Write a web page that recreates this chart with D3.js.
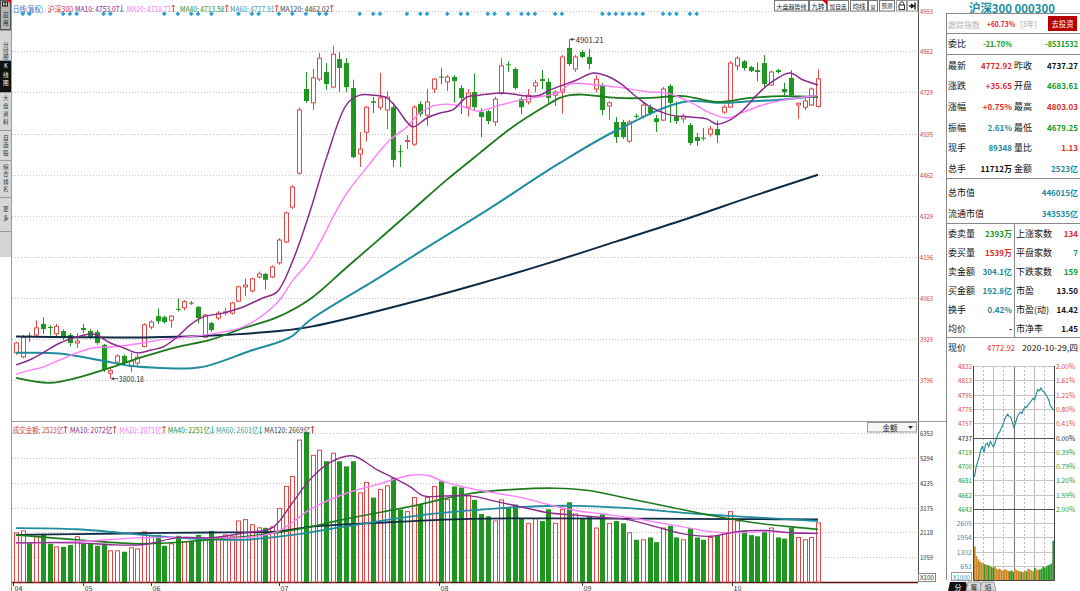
<!DOCTYPE html>
<html><head><meta charset="utf-8"><title>沪深300 日线</title>
<script src="https://cdn.jsdelivr.net/npm/d3@7/dist/d3.min.js"></script>
<style>
html,body{margin:0;padding:0;background:#fff;}
svg{display:block;font-family:"Noto Sans CJK SC","Liberation Sans",sans-serif;}
</style></head><body>
<svg id="c" width="1080" height="591" viewBox="0 0 1080 591"></svg>
<script>
// ================= DATA =================
const kIndex = d3.range(1, 121);
const kOpen = [3884,3871,3940,3942,3978,3968,3946,3955,3942,3916, 3965,3955,3952,3910,3818,3854,3874,3840,3851,3905,
 3968,4003,4000,3990,4027,4030,4047,4033,3935,3981, 3997,4014,4013,4052,4098,4085,4130,4140,4130,4176,
 4244,4357,4467,4740,4695,4772,4795,4746,4837,4824, 4743,4529,4600,4700,4681,4672,4681,4538,4570,4561,
 4691,4655,4740,4780,4763,4779,4743,4681,4730,4665, 4668,4633,4727,4820,4805,4707,4698,4750,4772,4763,
 4720,4730,4873,4805,4860,4844,4740,4753,4685,4633, 4633,4571,4653,4652,4681,4645,4639,4750,4652,4643,
 4623,4584,4582,4594,4610,4665,4681,4815,4830,4811, 4801,4824,4753,4801,4740,4776,4688,4681,4688,4683.61];
const kHigh = [3920,3942,3950,3990,4000,3974,3978,3960,3948,3948, 3978,3961,3958,3913,3835,3880,3878,3885,3880,3980,
 3990,4028,4005,4006,4060,4055,4052,4036,4010,3985, 4020,4030,4050,4102,4125,4128,4148,4144,4168,4256,
 4342,4428,4680,4795,4805,4857,4824,4880,4860,4840, 4770,4600,4685,4714,4792,4733,4695,4558,4590,4688,
 4700,4740,4776,4808,4785,4785,4753,4740,4790,4678, 4672,4715,4840,4830,4810,4715,4740,4770,4802,4775,
 4737,4850,4901.21,4850,4866,4870,4785,4760,4701,4649, 4640,4640,4660,4695,4690,4656,4746,4755,4700,4660,
 4630,4597,4613,4620,4637,4688,4830,4846,4834,4815, 4826,4850,4800,4805,4760,4801,4694,4714,4745,4803.03];
const kLow = [3878,3866,3920,3932,3945,3940,3935,3925,3905,3900, 3948,3930,3910,3822,3800.18,3845,3845,3822,3838,3902,
 3960,3978,3978,3965,4018,4022,4040,3980,3932,3952, 3990,4005,4008,4048,4068,4080,4125,4090,4126,4170,
 4240,4350,4462,4695,4672,4765,4737,4742,4730,4730, 4515,4487,4570,4662,4672,4610,4487,4487,4545,4555,
 4650,4620,4727,4755,4733,4695,4659,4650,4672,4584, 4626,4620,4720,4795,4738,4658,4690,4730,4740,4690,
 4685,4660,4815,4795,4840,4805,4730,4655,4640,4565, 4578,4565,4645,4645,4655,4600,4636,4630,4627,4630,
 4558,4555,4573,4585,4565,4659,4678,4800,4800,4795, 4765,4746,4750,4790,4720,4714,4643,4672,4685,4679.25];
const kClose = [3916,3935,3935,3965,3961,3967,3970,3935,3916,3922, 3958,3935,3916,3829,3826,3874,3851,3858,3870,3975,
 3984,3987,3984,4003,4024,4050,4044,3997,4007,3958, 4013,4017,4046,4098,4104,4124,4140,4121,4163,4250,
 4338,4422,4672,4701,4776,4840,4756,4853,4808,4746, 4519,4545,4681,4695,4711,4714,4510,4535,4573,4681,
 4659,4698,4772,4778,4779,4766,4711,4727,4681,4649, 4636,4707,4815,4817,4743,4681,4720,4760,4766,4711,
 4730,4844,4821,4844,4844,4821,4772,4672,4695,4584, 4584,4633,4651,4688,4662,4633,4740,4695,4636,4652,
 4565,4571,4580,4610,4590,4681,4824,4840,4808,4798, 4795,4756,4795,4795,4730,4720,4694,4701,4740,4772.92];
// turnover (亿)
const kAmount = [2100,2180,1670,1930,2010,1630,1500,1500,1580,1930, 1630,1630,1545,1630,1330,1330,1290,1460,1410,2140,
 1970,2010,1545,1630,1970,1715,1760,2010,1890,2180, 1890,2010,1930,2600,2660,2440,2310,2310,2350,3130,
 4075,4500,6050,6390,5400,5620,5150,5490,5150,4930, 5150,3800,4250,3600,3950,4100,4440,3090,3000,3600,
 3300,3600,4075,4290,3520,4075,4030,3700,3500,2900, 2800,2600,3500,3200,3300,2700,2500,2700,2600,3100,
 2500,3100,3400,2900,2700,2800,2300,2900,2500,2600, 2500,2100,1800,1800,1900,1700,2300,2400,1900,1800,
 2300,1900,1800,1900,2000,2100,3000,2600,2200,2000, 1950,2200,2300,1900,1850,2300,1900,1800,1900,2523];

// moving averages: [candle index, value]
const ma10 = [[1,3845],[3,3861],[5,3884],[7.5,3916],[10,3935],[12,3945],[13,3942],[15,3916],[17,3900],[19,3884],[21,3893],[22.8,3903],[24.9,3935],[26.8,3974],[28.7,4000],[31.7,4013],[34.7,4033],[37.6,4062],[39.7,4081],[42.1,4185],[44.6,4341],[47.1,4519],[50.1,4691],[52,4720],[54,4720],[56,4711],[57.5,4678],[59,4633],[59.9,4617],[62,4646],[63.9,4662],[65.8,4672],[67.9,4714],[69.8,4720],[72.8,4727],[74.7,4724],[76.8,4717],[78.7,4720],[80.2,4737],[82.2,4753],[84.2,4769],[86.6,4792],[88.7,4782],[90.6,4759],[93.1,4714],[95.1,4682],[98,4656],[101,4649],[103.5,4643],[105,4626],[106.9,4639],[108.9,4672],[110.9,4720],[112.9,4759],[115.8,4792],[117.8,4769],[120,4753]];
const ma20 = [[1,3815],[2.6,3825],[5,3838],[7.5,3861],[10,3884],[12.4,3900],[15,3903],[19.8,3916],[22.4,3926],[24.9,3932],[29.8,3945],[34.7,3968],[39.7,4046],[42.1,4120],[44.6,4185],[48.6,4347],[50.1,4403],[53.1,4487],[56.5,4575],[59,4617],[60.9,4662],[62.9,4685],[64.9,4691],[66.9,4685],[69.8,4668],[71.8,4681],[74.7,4698],[77.7,4711],[81.7,4730],[83.2,4756],[87.2,4753],[90.2,4746],[95.1,4730],[97.6,4727],[101,4698],[104,4662],[106.5,4646],[108.9,4665],[111.8,4688],[114.8,4704],[120,4719]];
const ma40 = [[1,3803],[6,3787],[10,3803],[15,3836],[19.8,3871],[24.9,3903],[29.8,3926],[34.7,3964],[39.7,3999],[44.6,4058],[50,4160],[55,4255],[59.8,4347],[64.9,4445],[69.8,4532],[74.7,4617],[79.8,4688],[81.7,4711],[83.2,4720],[85.1,4722],[90.2,4711],[95.1,4711],[100,4717],[105,4698],[109.9,4711],[114.8,4717],[120,4714]];
const ma60 = [[1,3884],[7.5,3882],[13.5,3860],[17.9,3842],[22.4,3835],[28.3,3837],[35.7,3890],[41.7,3935],[44.6,3990],[55,4130],[63,4240],[70.9,4347],[81.7,4500],[90.2,4607],[100,4698],[105.9,4695],[110,4700],[115,4706],[120,4718]];
const ma120 = [[1,3937],[10,3935],[20,3934],[30,3940],[40,3955],[45,3970],[60,4050],[70,4110],[80,4175],[90,4245],[100,4315],[110,4390],[120,4462]];

const vma10 = [[1,1670],[10,1670],[15,1590],[20,1600],[25,1890],[30,1890],[35,2100],[39,2310],[42,3370],[44.6,4360],[47.5,5080],[50.9,5380],[54.6,4780],[57,4440],[59.5,4060],[61.5,3670],[64.4,3670],[68.4,3670],[72,3450],[76,3200],[80,2950],[84,2850],[88,2750],[92,2650],[96,2350],[100,2050],[104,1950],[108,2150],[112,2200],[116,2100],[120,2072]];
const vma20 = [[1,1670],[10,1720],[19.8,1890],[29.8,1890],[34.7,1890],[39.7,2140],[42.1,2560],[44.6,3090],[49.5,3730],[54.6,4160],[59.5,4550],[62,4550],[64.4,4290],[68.4,3990],[72,3800],[76,3600],[80,3300],[84,3050],[88,2900],[92,2750],[96,2550],[100,2350],[104,2150],[108,2100],[112,2150],[116,2100],[120,2071]];
const vma40 = [[1,2010],[10,1800],[19.8,1630],[29.8,1800],[39.7,2100],[44.6,2350],[49.5,2660],[59.5,3220],[68.4,3770],[75,3950],[81,4000],[86,3900],[92,3550],[98,3200],[104,2850],[110,2550],[116,2350],[120,2251]];
const vma60 = [[1,2300],[10,2250],[19.8,2010],[24.8,1890],[34.7,1800],[42.1,2010],[49.5,2350],[59.5,2790],[68.4,3050],[76,3200],[84,3250],[92,3150],[100,2950],[108,2800],[114,2700],[120,2601]];
const vma120 = [[1,2010],[10,2040],[20,2080],[30,2110],[39.7,2150],[44.6,2350],[54.6,2520],[68.4,2690],[80,2710],[95,2700],[110,2680],[120,2669]];

const priceTicks = [4993,4862,4729,4595,4462,4329,4196,4063,3929,3796];
const volTicks = [6353,5294,4235,3175,2118,1059];
const monthLabels = ['04','05','06','07','08','09','10'];
const monthIdx = [0.6,11,21,40,63.8,85,107.3];
const markerIdx = [2,3,8,9,10,14,15,23,25,27,28,30,34,36,37,40,42,44,46,47,52,54,55,59,61,62,65,67,68,71,72,74,76,77,78,81,82,88,89,90,91,92,93,94,97,98,99,101,102];

// intraday (every ~5 min)
const intraPrice = [4685,4698,4705,4712,4721,4725,4718,4728,4730,4725, 4732,4728,4725,4730,4737,4742,4745,4750,4754,4761,
 4765,4768,4765,4764,4757,4750,4757,4764,4768,4771, 4769,4774,4778,4777,4781,4783,4786,4789,4787,4794,
 4801,4799,4803,4799,4797,4795,4791,4787,4779,4777, 4772.92];
const intraVol = [1540,1100,950,850,800,760,720,700,680,650, 600,560,620,520,480,520,450,430,500,460,
 420,400,440,380,520,460,420,400,380,360, 420,400,520,480,440,400,560,500,460,480, 520,600,560,620,680,700,760,1800];
const intraPriceLabels = ['4832','4813','4795','4775','4757','4737','4719','4700','4681','4662','4643'];
const intraPctLabels = ['2.00%','1.61%','1.21%','0.80%','0.41%','0.00%','0.39%','0.79%','1.20%','1.59%','2.00%'];
const intraVolLabels = ['2605','1954','1302','651'];
const intraVolTicks = [2605,1954,1302,651];

// quote panel
const quoteRows = [
 ['最新','4772.92','r','昨收','4737.27','k'],
 ['涨跌','+35.65','r','开盘','4683.61','g'],
 ['涨幅','+0.75%','r','最高','4803.03','r'],
 ['振幅','2.61%','t','最低','4679.25','g'],
 ['现手','89348','t','量比','1.13','r'],
 ['总手','11712万','k','金额','2523亿','t']];
const capRows = [['总市值','446015亿'],['流通市值','343535亿']];
const tradeRows = [
 ['委卖量','2393万','g','上涨家数','134','r'],
 ['委买量','1539万','r','平盘家数','7','t'],
 ['卖金额','304.1亿','t','下跌家数','159','g'],
 ['买金额','192.8亿','t','市盈','13.50','k'],
 ['换手','0.42%','t','市盈(动)','14.42','k'],
 ['均价','-','k','市净率','1.45','k']];

// ================= DRAW =================
const svg = d3.select('#c');
const RED='#e04848', GRN='#1f961f', PUR='#8b2b8b', PINK='#ff7cff', DGRN='#1b7a1b', MTEAL='#1f8d9f', NAVY='#0e2a44';
const COL = {r:'#e02a2a', g:'#17981a', t:'#1b8ca2', k:'#111'};

function T(p, x, y, s, o = {}) {
  const t = p.append('text').attr('x', x).attr('y', y).text(s)
    .attr('font-size', o.fs || 8).attr('fill', o.c || '#222')
    .attr('text-anchor', o.a || 'start').attr('dominant-baseline', 'central');
  if (o.w) t.attr('font-weight', o.w);
  if (o.len) t.attr('textLength', o.len).attr('lengthAdjust', 'spacingAndGlyphs');
  return t;
}
function L(p, x1, y1, x2, y2, c, w = 1, dash) {
  const l = p.append('line').attr('x1', x1).attr('y1', y1).attr('x2', x2).attr('y2', y2)
    .attr('stroke', c).attr('stroke-width', w);
  if (dash) l.attr('stroke-dasharray', dash);
  return l;
}
function arrow(p, x, y, up, c) {
  const d = up ? `M${x+1.6},${y-3.5} L${x+1.6},${y+3.5} M${x},${y-1.8} L${x+1.6},${y-3.5} L${x+3.2},${y-1.8}`
               : `M${x+1.6},${y-3.5} L${x+1.6},${y+3.5} M${x},${y+1.8} L${x+1.6},${y+3.5} L${x+3.2},${y+1.8}`;
  p.append('path').attr('d', d).attr('fill','none').attr('stroke', c).attr('stroke-width', 0.9);
}

const x = d3.scaleLinear().domain([1, 120]).range([16, 818]);
const yP = d3.scaleLinear().domain([3796, 4993]).range([380, 11]);
const yV = d3.scaleLinear().domain([0, 6353]).range([582, 433]);

// ---- sidebar ----
const sb = svg.append('g');
sb.append('rect').attr('x',0).attr('y',0).attr('width',11).attr('height',257).attr('fill','#d6d6d6');
sb.append('rect').attr('x',0.5).attr('y',0.5).attr('width',10).attr('height',29).attr('fill','#b4b4b4').attr('stroke','#555');
sb.append('rect').attr('x',2).attr('y',1.5).attr('width',6).attr('height',5).attr('fill','#222');
L(sb,3.5,2.5,3.5,5.5,'#fff',0.8); L(sb,6.5,2.5,6.5,5.5,'#fff',0.8); L(sb,3.5,4,6.5,4,'#fff',0.8);
sb.append('path').attr('d','M7,0 L11,0 L11,4 Z').attr('fill','#e00000');
sb.append('rect').attr('x',0).attr('y',61).attr('width',11).attr('height',31).attr('fill','#111');
[30,60,92,130,160,197,231].forEach(y=>L(sb,0,y+0.5,11,y+0.5,'#9a9a9a'));
const sideChars = [['应',14.5,'#222'],['用',23,'#222'],['分',45,'#333'],['时',51,'#333'],['图',57,'#333'],
 ['K',66,'#fff'],['线',74.5,'#fff'],['图',82.5,'#fff'],['大',98,'#333'],['盘',106,'#333'],['资',114,'#333'],['料',122,'#333'],
 ['自',137.5,'#333'],['选',145,'#333'],['股',152.5,'#333'],['综',166.5,'#333'],['合',174,'#333'],['排',181.5,'#333'],['名',189,'#333'],
 ['更',209,'#333'],['多',217.5,'#333']];
sideChars.forEach(d=>T(sb,5.7,d[1],d[0],{fs:5.6,c:d[2],a:'middle'}));
L(svg,11.5,0,11.5,591,'#9a9a9a');

// ---- grids ----
const grid = svg.append('g').attr('shape-rendering','crispEdges');
priceTicks.forEach(v=>{ const yy=Math.round(yP(v))+0.5; L(grid,12,yy,918,yy,'#c2c2c2',1,'1,2'); });
volTicks.forEach(v=>{ const yy=Math.round(yV(v))+0.5; L(grid,12,yy,918,yy,'#c2c2c2',1,'1,2'); });

// ---- candles ----
const kg = svg.append('g');
kIndex.forEach((k,i)=>{
  const cx = Math.round(x(k))+0.5;
  const o=kOpen[i], c=kClose[i], h=kHigh[i], l=kLow[i];
  const up = c>=o, col = up?RED:GRN;
  L(kg,cx,yP(h),cx,yP(l),col,1);
  const top=yP(Math.max(o,c)), bot=yP(Math.min(o,c)), hg=Math.max(1,bot-top);
  if(up) kg.append('rect').attr('x',cx-2).attr('y',top).attr('width',4).attr('height',hg).attr('fill','#fff').attr('stroke',col);
  else kg.append('rect').attr('x',cx-2.5).attr('y',top).attr('width',5).attr('height',hg).attr('fill',col);
});

// ---- price MAs ----
const lineP = d3.line().x(d=>x(d[0])).y(d=>yP(d[1])).curve(d3.curveCatmullRom.alpha(0.5));
[[ma120,NAVY,2],[ma60,MTEAL,2],[ma40,DGRN,1.8],[ma20,PINK,1.4],[ma10,PUR,1.5]].forEach(([d,c,w])=>{
  svg.append('path').attr('d',lineP(d)).attr('fill','none').attr('stroke',c).attr('stroke-width',w);
});

// ---- annotations ----
const ann = svg.append('g');
const hx = x(83)+1.5, hy = yP(4901.21);
L(ann,hx,hy,hx+5,hy,'#333',0.8);
ann.append('path').attr('d',`M${hx},${hy} l2.5,-1.6 l0,3.2 Z`).attr('fill','#333');
T(ann,hx+5.5,hy,'4901.21',{fs:8,c:'#333',len:28});
const lx = x(15)+1, ly = yP(3800.18);
L(ann,lx,ly,lx+7,ly,'#333',0.8);
ann.append('path').attr('d',`M${lx},${ly} l2.5,-1.6 l0,3.2 Z`).attr('fill','#333');
T(ann,lx+7.5,ly,'3800.18',{fs:8,c:'#333',len:25});

// ---- markers ----
const mk = svg.append('g');
markerIdx.forEach(k=>{ const cx=x(k), cy=13.8;
  mk.append('path').attr('d',`M${cx},${cy-2.4} L${cx+2.4},${cy} L${cx},${cy+2.4} L${cx-2.4},${cy} Z`).attr('fill','#2a9fd8'); });

// ---- legend top ----
const lg = svg.append('g');
T(lg,12.7,8.5,'日线(复权)',{fs:8,c:'#3a6fc4',len:30.5});
T(lg,47.7,8.5,'沪深300',{fs:8,c:'#d83a3a',len:25.5});
const legP = [['MA10: 4753.07',75,44.5,PUR,false,'#1fa8c8'],['MA20: 4718.71',126.7,44.5,PINK,true,'#e03030'],
 ['MA40: 4713.58',180,44.5,'#2e8e2e',true,'#e03030'],['MA60: 4717.91',230,44.5,'#3a9aaa',true,'#e03030'],['MA120: 4462.02',280,49.5,'#33495a',true,'#e03030']];
legP.forEach(d=>{ T(lg,d[1],8.5,d[0],{fs:8,c:d[3],len:d[2]}); arrow(lg,d[1]+d[2]+0.6,8.5,d[4],d[5]); });

// ---- toolbar ----
const tb = svg.append('g');
[['大盘趋势线',774,809],['九转',809,827],['加自选',827,849],['均线',850,868],['窗',868,878],['预测',879,895]].forEach(d=>{
  tb.append('rect').attr('x',d[1]+0.5).attr('y',0.5).attr('width',d[2]-d[1]-1).attr('height',10.5).attr('fill','#fff').attr('stroke','#777');
  const n = d[0].length;
  T(tb,(d[1]+d[2])/2,6,d[0],{fs:Math.min(7,(d[2]-d[1]-5)/n),c:'#222',a:'middle',len:d[2]-d[1]-5});
});
tb.append('path').attr('d','M822,0 L827,0 L827,5 Z').attr('fill','#e00000');
tb.append('rect').attr('x',896.5).attr('y',0.5).attr('width',10).attr('height',10.5).attr('fill','#fff').attr('stroke','#999');
tb.append('rect').attr('x',899).attr('y',5).attr('width',5.5).attr('height',4.5).attr('fill','none').attr('stroke','#333');
tb.append('path').attr('d','M900,5 L900,3.5 A1.8,1.8 0 0 1 903.6,3.5 L903.6,5').attr('fill','none').attr('stroke','#333');
tb.append('rect').attr('x',907.5).attr('y',0.5).attr('width',10).attr('height',10.5).attr('fill','#fff').attr('stroke','#999');
tb.append('path').attr('d','M909,6 L913,6 M911,4 L913.5,6 L911,8').attr('fill','none').attr('stroke','#111').attr('stroke-width',1.6);
L(tb,915,2.5,915,9.5,'#111',1.4);

// ---- axes ----
const ax = svg.append('g');
L(ax,918.5,0,918.5,582,'#555');
priceTicks.forEach(v=>T(ax,920,yP(v),String(v),{fs:7,c:'#d04040',len:13}));
volTicks.forEach(v=>T(ax,920,yV(v),String(v),{fs:7,c:'#333',len:13}));
ax.append('rect').attr('x',918.5).attr('y',573.5).attr('width',17).attr('height',8).attr('fill','#fff').attr('stroke','#888');
T(ax,927,577.5,'X100',{fs:6,c:'#333',a:'middle',len:14});
L(ax,12,421.5,947,421.5,'#9a9a9a');
L(ax,12,582.5,918,582.5,'#5a1010',1.5);
monthIdx.forEach((k,i)=>{ const mx=Math.round(x(k))+0.5; L(ax,mx,582,mx,586,'#333'); T(ax,mx+1,587.5,monthLabels[i],{fs:7,c:'#333',len:8}); });
ax.append('rect').attr('x',867.5).attr('y',422.5).attr('width',49).attr('height',9.5).attr('fill','#f6f6f6').attr('stroke','#999');
T(ax,890,427.3,'金额',{fs:7.5,c:'#222',a:'middle'});
ax.append('path').attr('d','M908,426 L913,426 L910.5,429 Z').attr('fill','#333');

// ---- volume bars ----
const vg = svg.append('g');
kIndex.forEach((k,i)=>{
  const cx = Math.round(x(k))+0.5, up = kClose[i]>=kOpen[i], col = up?RED:GRN;
  const top = yV(kAmount[i]), hg = 582-top;
  if(up) vg.append('rect').attr('x',cx-2).attr('y',top).attr('width',4).attr('height',hg).attr('fill','#fff').attr('stroke',col);
  else vg.append('rect').attr('x',cx-2.5).attr('y',top).attr('width',5).attr('height',hg).attr('fill',col);
});
const lineV = d3.line().x(d=>x(d[0])).y(d=>yV(d[1])).curve(d3.curveCatmullRom.alpha(0.5));
[[vma120,NAVY,1.8],[vma60,MTEAL,1.8],[vma40,DGRN,1.6],[vma20,PINK,1.4],[vma10,PUR,1.4]].forEach(([d,c,w])=>{
  svg.append('path').attr('d',lineV(d)).attr('fill','none').attr('stroke',c).attr('stroke-width',w);
});
// volume legend
const vl = svg.append('g');
[['成交金额: 2523亿',12.7,50.5,'#d04848',true,'#e03030'],['MA10: 2072亿',70,42.5,PUR,true,'#e03030'],['MA20: 2071亿',119.3,42.5,PINK,true,'#e03030'],
 ['MA40: 2251亿',167.7,42.5,'#2e8e2e',false,'#1fa8c8'],['MA60: 2601亿',216,42.5,'#3a9aaa',false,'#1fa8c8'],['MA120: 2669亿',264.3,46,'#33495a',true,'#e03030']]
 .forEach(d=>{ T(vl,d[1],429.8,d[0],{fs:8,c:d[3],len:d[2]}); arrow(vl,d[1]+d[2]+0.6,429.8,d[4],d[5]); });

// ================= RIGHT PANEL =================
const rp = svg.append('g');
T(rp,1012,7.5,'沪深300 000300',{fs:12,c:'#1a8fa0',a:'middle',w:'bold',len:86});
L(rp,946.5,13,946.5,580,'#888');
L(rp,946,13.5,1080,13.5,'#888');
T(rp,948,23.5,'跟踪指数',{fs:8.5,c:'#b4b4b4',len:32});
T(rp,987,23.5,'+60.73%',{fs:8,c:'#e02a2a',w:'bold',len:28});
T(rp,1020,23.5,'[3年]',{fs:7.5,c:'#aaa',len:17});
rp.append('rect').attr('x',1048).attr('y',16).attr('width',29).attr('height',15).attr('fill','#b80000');
T(rp,1062.5,23.5,'去投资',{fs:7.5,c:'#fff',a:'middle',len:22});
L(rp,946,33.5,1080,33.5,'#888');
T(rp,948,43.5,'委比',{fs:9,c:'#111'});
T(rp,1012,43.5,'-21.70%',{fs:8,c:COL.g,a:'end',w:'bold',len:29});
T(rp,1078,43.5,'-8531532',{fs:8,c:COL.g,a:'end',w:'bold',len:33});
L(rp,946,54.5,1080,54.5,'#888');
quoteRows.forEach((r,i)=>{ const yy = 65 + i*20.7;
  T(rp,948,yy,r[0],{fs:9,c:'#111'}); T(rp,1012,yy,r[1],{fs:8,c:COL[r[2]],a:'end',w:'bold'});
  T(rp,1014,yy,r[3],{fs:9,c:'#111'}); T(rp,1078,yy,r[4],{fs:8,c:COL[r[5]],a:'end',w:'bold'}); });
L(rp,946,178.5,1080,178.5,'#888');
capRows.forEach((r,i)=>{ const yy=192+i*21; T(rp,948,yy,r[0],{fs:9,c:'#111'}); T(rp,1078,yy,r[1],{fs:8,c:COL.t,a:'end',w:'bold'}); });
L(rp,946,223.5,1080,223.5,'#888');
L(rp,1014.5,223.5,1014.5,337,'#888');
tradeRows.forEach((r,i)=>{ const yy = 233.5 + i*19;
  T(rp,948,yy,r[0],{fs:9,c:'#111'}); T(rp,1012,yy,r[1],{fs:8,c:COL[r[2]],a:'end',w:'bold'});
  T(rp,1016,yy,r[3],{fs:9,c:'#111'}); T(rp,1078,yy,r[4],{fs:8,c:COL[r[5]],a:'end',w:'bold'}); });
L(rp,946,337.5,1080,337.5,'#888');
T(rp,948,347.5,'现价',{fs:9,c:'#111'});
T(rp,1001,347.5,'4772.92',{fs:8,c:COL.r,a:'middle',len:28});
T(rp,1078,347.5,'2020-10-29,四',{fs:8,c:'#111',a:'end',len:56});

// ---- intraday chart ----
const ic = svg.append('g');
const iy0 = 366, istep = 14.3;
const yI = d3.scaleLinear().domain([4642.5, 4832]).range([iy0+10*istep, iy0]);
const xI = d3.scaleLinear().domain([0, intraPrice.length-1]).range([974.5, 1053.5]);
const yIV = d3.scaleLinear().domain([0, 3256]).range([580, 509]);
[983,993,1003,1024,1034,1044].forEach((vx,i)=>L(ic,vx+0.5,iy0,vx+0.5,580,'#bdbdbd',1,(i===1||i===4)?null:'2,2'));
L(ic,1014.5,iy0,1014.5,580,'#777');
intraPriceLabels.forEach((s,i)=>{ const yy = iy0 + i*istep;
  const c = i<5 ? '#e04848' : (i===5 ? '#222' : '#2a9a2a');
  L(ic,973.5,Math.round(yy)+0.5,1054,Math.round(yy)+0.5,(i===5||i===10)?'#555':'#c4c4c4',(i===5||i===10)?1.2:1);
  T(ic,972,yy,s,{fs:7,c:c,a:'end',len:14});
  T(ic,1056,yy,intraPctLabels[i],{fs:7,c:c,len:19});
});
intraVolLabels.forEach((s,i)=>{ const yy=yIV(intraVolTicks[i]);
  L(ic,973.5,Math.round(yy)+0.5,1054,Math.round(yy)+0.5,'#c4c4c4');
  T(ic,972,yy,s,{fs:7,c:'#3a8fb4',a:'end'}); });
L(ic,973.5,iy0,973.5,580.5,'#444'); L(ic,1054.5,iy0,1054.5,580.5,'#444');
L(ic,973.5,580.5,1054.5,580.5,'#444');
const xb = d3.scaleBand().domain(d3.range(intraVol.length)).range([974,1054]);
intraVol.forEach((v,i)=>{
  const pi = Math.round(i*(intraPrice.length-1)/(intraVol.length-1));
  const prev = intraPrice[Math.max(0,pi-1)];
  const col = intraPrice[pi] >= prev ? '#c98a2c' : '#2a9a2a';
  ic.append('rect').attr('x',xb(i)).attr('y',yIV(v)).attr('width',xb.bandwidth()).attr('height',580-yIV(v)).attr('fill',col);
});
ic.append('path').attr('d',d3.line().x((d,i)=>xI(i)).y(d=>yI(d))(intraPrice)).attr('fill','none').attr('stroke','#1b8a90').attr('stroke-width',1.1);
ic.append('rect').attr('x',951.5).attr('y',572.5).attr('width',20).attr('height',8).attr('fill','#fff').attr('stroke','#999');
T(ic,961.5,576.7,'X1000',{fs:6.5,c:'#3a8fb4',a:'middle',len:17});
// bottom tabs
ic.append('path').attr('d','M948,591 L950,582 L966,582 L968,591 Z').attr('fill','#111');
T(ic,958,586.5,'分',{fs:7,c:'#fff',a:'middle'});
ic.append('path').attr('d','M966,591 L968,582 L980,582 L982,591 Z').attr('fill','#d8d8d8').attr('stroke','#999');
T(ic,974,586.5,'筹',{fs:7,c:'#333',a:'middle'});
ic.append('path').attr('d','M980,591 L982,582 L994,582 L996,591 Z').attr('fill','#d8d8d8').attr('stroke','#999');
T(ic,988,586.5,'焰',{fs:7,c:'#333',a:'middle'});
</script></body></html>
